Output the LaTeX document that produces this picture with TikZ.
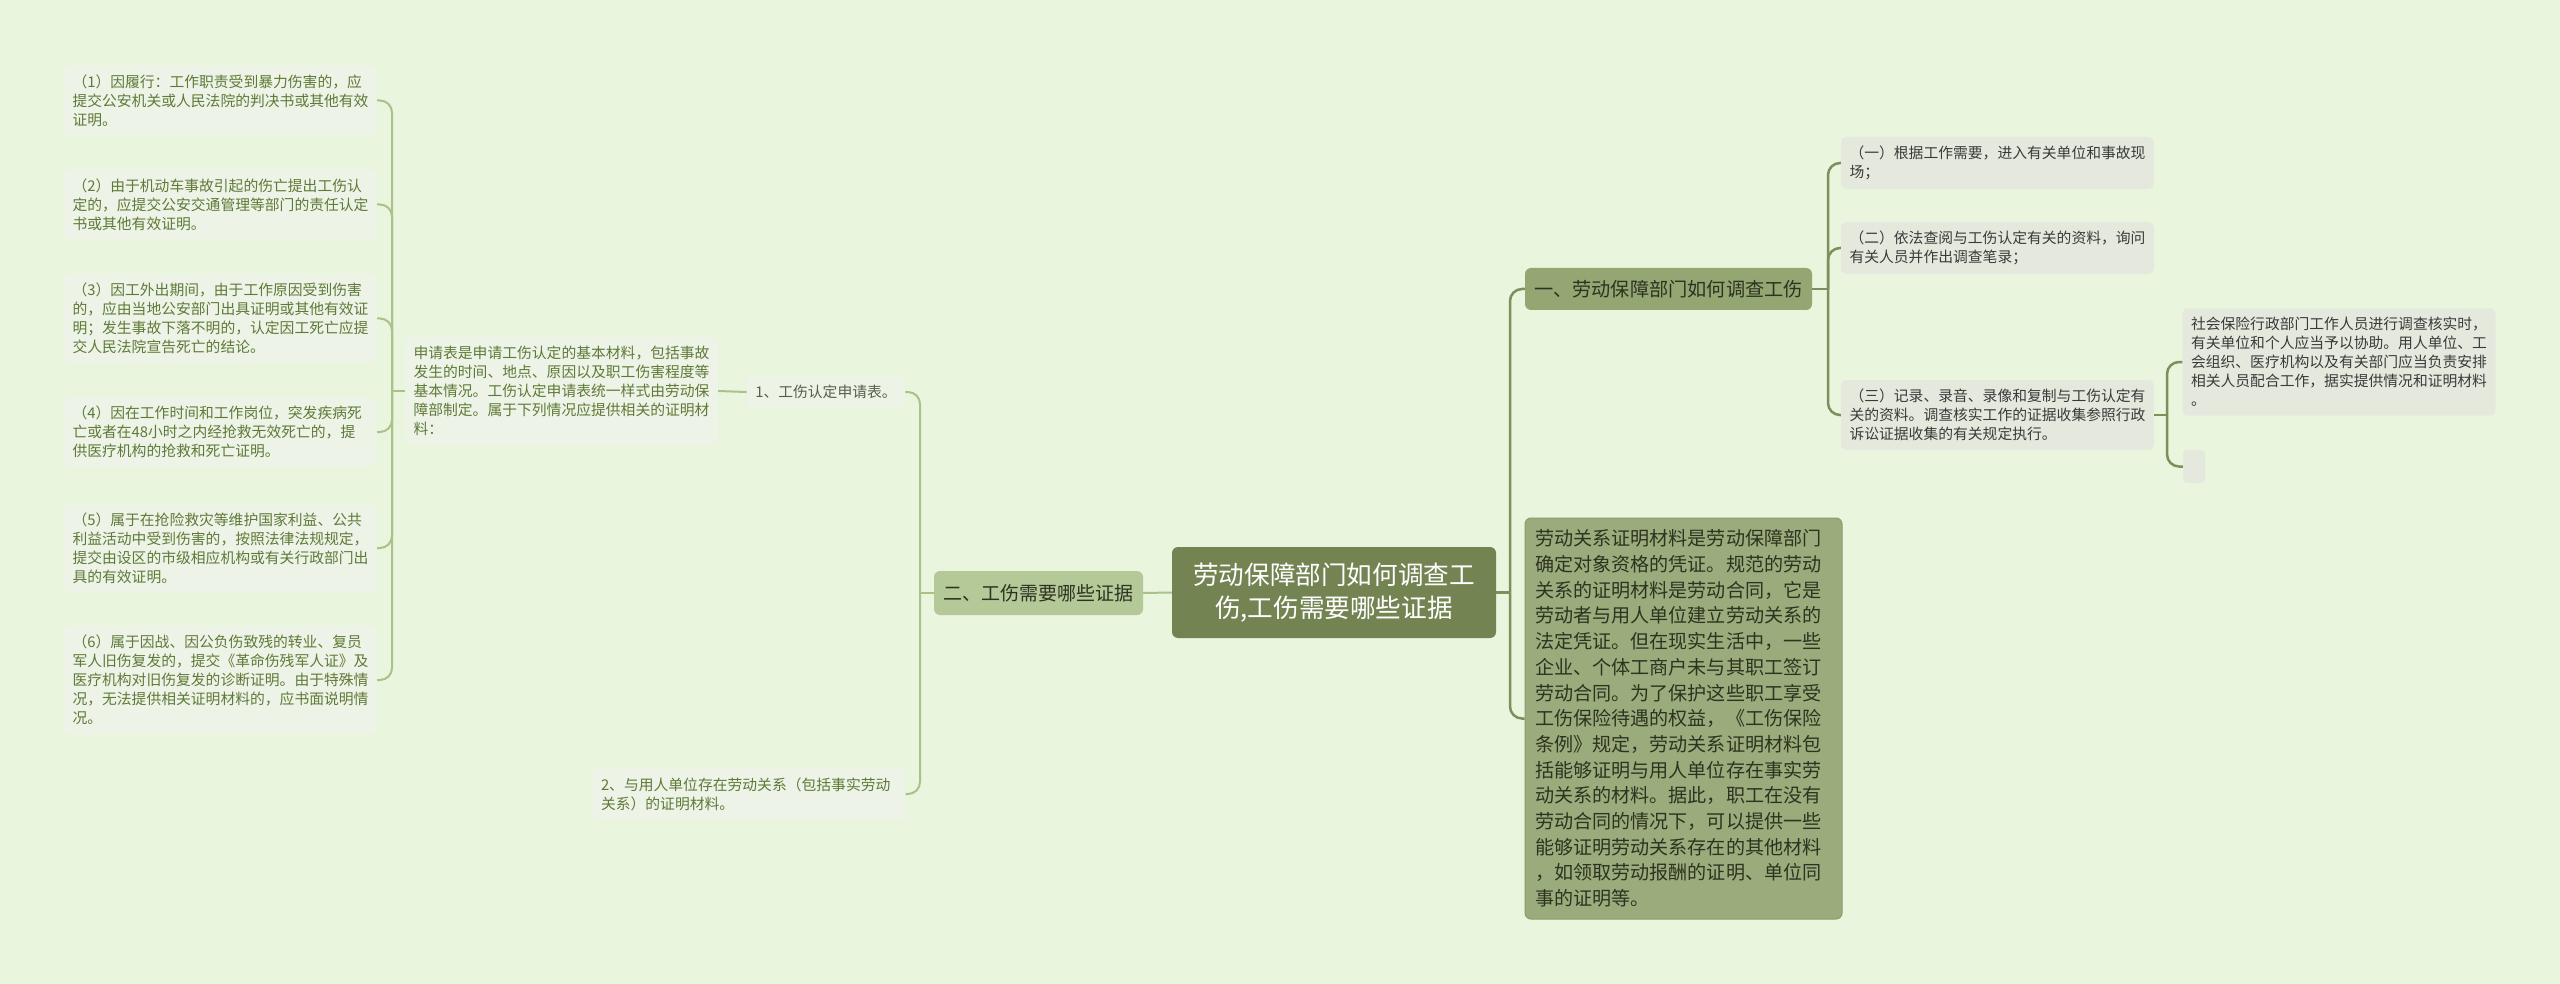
\documentclass[tikz,border=0pt]{standalone}
\usepackage{fontspec}
\newfontfamily\cjk{Noto Sans CJK SC}
\definecolor{bgcol}{HTML}{E9F5DD}
\definecolor{rootcol}{HTML}{738452}
\definecolor{lbrcol}{HTML}{B4C898}
\definecolor{rbrcol}{HTML}{94A672}
\definecolor{bigcol}{HTML}{9AAC7B}
\definecolor{bigedge}{HTML}{8C9D6C}
\definecolor{lleafcol}{HTML}{EEF3E7}
\definecolor{rleafcol}{HTML}{E5E9DD}
\definecolor{llinecol}{HTML}{A9C18A}
\definecolor{rlinecol}{HTML}{7E8F5C}
\definecolor{ltext}{HTML}{5E7A37}
\definecolor{formtext}{HTML}{55604A}
\definecolor{rtext}{HTML}{3A3A3A}
\definecolor{darktext}{HTML}{2C3320}
\tikzset{
  leafbase/.style={rounded corners=5pt, inner xsep=8.5pt, inner ysep=9pt,
    font=\cjk\fontsize{14.8pt}{19pt}\selectfont},
  lleaf/.style={leafbase, fill=lleafcol, text=ltext, text width=296pt, align=left},
  rleaf/.style={leafbase, fill=rleafcol, text=rtext, text width=296pt, align=left},
  rootbox/.style={fill=rootcol, text=white, rounded corners=6pt, inner sep=0pt,
    minimum width=324pt, minimum height=91pt, align=center,
    font=\cjk\fontsize{25.6pt}{32.5pt}\selectfont},
  lbranch/.style={fill=lbrcol, text=darktext, rounded corners=6pt, inner sep=0pt,
    minimum width=209pt, minimum height=44pt, font=\cjk\fontsize{19pt}{24pt}\selectfont},
  rbranch/.style={fill=rbrcol, text=darktext, rounded corners=6pt, inner sep=0pt,
    minimum width=287pt, minimum height=42pt, font=\cjk\fontsize{19.2pt}{24pt}\selectfont},
  bigbox/.style={fill=bigcol, draw=bigedge, line width=1pt, text=darktext, rounded corners=6pt,
    text width=297pt, inner xsep=10pt, inner ysep=0pt, minimum height=401pt, align=left,
    font=\cjk\fontsize{19.1pt}{25.7pt}\selectfont},
  lline/.style={draw=llinecol, line width=2pt},
  rline/.style={draw=rlinecol, line width=2.5pt},
}
\begin{document}
\begin{tikzpicture}[x=1pt,y=-1pt]
  \fill[bgcol] (0,0) rectangle (2560,984);
  % centre
  \node[rootbox] (root) at (1334,592.5) {劳动保障部门如何调查工\\伤,工伤需要哪些证据};
  % left half
  \node[lbranch] (ev) at (1038.5,593) {二、工伤需要哪些证据};
  \node[leafbase, fill=lleafcol, text=formtext] (form) at (826,392) {1、工伤认定申请表。};
  \node[lleaf] (labour) at (749,794) {2、与用人单位存在劳动关系（包括事实劳动\\关系）的证明材料。};
  \node[lleaf] (desc) at (561.5,391) {申请表是申请工伤认定的基本材料，包括事故\\发生的时间、地点、原因以及职工伤害程度等\\基本情况。工伤认定申请表统一样式由劳动保\\障部制定。属于下列情况应提供相关的证明材\\料：};
  \node[lleaf] (item1) at (220.5,100.5) {（1）因履行：工作职责受到暴力伤害的，应\\提交公安机关或人民法院的判决书或其他有效\\证明。};
  \node[lleaf] (item2) at (220.5,204.5) {（2）由于机动车事故引起的伤亡提出工伤认\\定的，应提交公安交通管理等部门的责任认定\\书或其他有效证明。};
  \node[lleaf] (item3) at (220.5,318.5) {（3）因工外出期间，由于工作原因受到伤害\\的，应由当地公安部门出具证明或其他有效证\\明；发生事故下落不明的，认定因工死亡应提\\交人民法院宣告死亡的结论。};
  \node[lleaf] (item4) at (220.5,432) {（4）因在工作时间和工作岗位，突发疾病死\\亡或者在48小时之内经抢救无效死亡的，提\\供医疗机构的抢救和死亡证明。};
  \node[lleaf] (item5) at (220.5,548) {（5）属于在抢险救灾等维护国家利益、公共\\利益活动中受到伤害的，按照法律法规规定，\\提交由设区的市级相应机构或有关行政部门出\\具的有效证明。};
  \node[lleaf] (item6) at (220.5,680) {（6）属于因战、因公负伤致残的转业、复员\\军人旧伤复发的，提交《革命伤残军人证》及\\医疗机构对旧伤复发的诊断证明。由于特殊情\\况，无法提供相关证明材料的，应书面说明情\\况。};
  % right half
  \node[rbranch] (inv) at (1668.5,289) {一、劳动保障部门如何调查工伤};
  \node[bigbox] (rel) at (1683.5,718.5) {劳动关系证明材料是劳动保障部门\\确定对象资格的凭证。规范的劳动\\关系的证明材料是劳动合同，它是\\劳动者与用人单位建立劳动关系的\\法定凭证。但在现实生活中，一些\\企业、个体工商户未与其职工签订\\劳动合同。为了保护这些职工享受\\工伤保险待遇的权益，《工伤保险\\条例》规定，劳动关系证明材料包\\括能够证明与用人单位存在事实劳\\动关系的材料。据此，职工在没有\\劳动合同的情况下，可以提供一些\\能够证明劳动关系存在的其他材料\\，如领取劳动报酬的证明、单位同\\事的证明等。};
  \node[rleaf] (step1) at (1997.5,163) {（一）根据工作需要，进入有关单位和事故现\\场；};
  \node[rleaf] (step2) at (1997.5,248) {（二）依法查阅与工伤认定有关的资料，询问\\有关人员并作出调查笔录；};
  \node[rleaf] (step3) at (1997.5,415) {（三）记录、录音、录像和复制与工伤认定有\\关的资料。调查核实工作的证据收集参照行政\\诉讼证据收集的有关规定执行。};
  \node[rleaf] (help) at (2339,362) {社会保险行政部门工作人员进行调查核实时，\\有关单位和个人应当予以协助。用人单位、工\\会组织、医疗机构以及有关部门应当负责安排\\相关人员配合工作，据实提供情况和证明材料\\。};
  \node[fill=rleafcol, rounded corners=4pt, minimum width=22pt, minimum height=33pt, inner sep=0pt] (blank) at (2194,466.5) {};
  % connectors, left
  \draw[lline] (root.west) -- (ev.east);
  \coordinate (jev) at (920,593);
  \draw[lline] (ev.west) -- (jev);
  \draw[lline, rounded corners=12pt] (jev) |- (form.east);
  \draw[lline, rounded corners=12pt] (jev) |- (labour.east);
  \draw[lline] (form.west) -- (desc.east);
  \coordinate (jdesc) at (392,391);
  \draw[lline] (desc.west) -- (jdesc);
  \draw[lline, rounded corners=12pt] (jdesc) |- (item1.east);
  \draw[lline, rounded corners=12pt] (jdesc) |- (item2.east);
  \draw[lline, rounded corners=12pt] (jdesc) |- (item3.east);
  \draw[lline, rounded corners=12pt] (jdesc) |- (item4.east);
  \draw[lline, rounded corners=12pt] (jdesc) |- (item5.east);
  \draw[lline, rounded corners=12pt] (jdesc) |- (item6.east);
  % connectors, right
  \coordinate (jroot) at (1510,592.5);
  \draw[rline] (root.east) -- (jroot);
  \draw[rline, rounded corners=12pt] (jroot) |- (inv.west);
  \draw[rline, rounded corners=12pt] (jroot) |- (rel.west);
  \coordinate (jinv) at (1828,289);
  \draw[rline] (inv.east) -- (jinv);
  \draw[rline, rounded corners=12pt] (jinv) |- (step1.west);
  \draw[rline, rounded corners=12pt] (jinv) |- (step2.west);
  \draw[rline, rounded corners=12pt] (jinv) |- (step3.west);
  \coordinate (jstep) at (2167,415);
  \draw[rline] (step3.east) -- (jstep);
  \draw[rline, rounded corners=12pt] (jstep) |- (help.west);
  \draw[rline, rounded corners=12pt] (jstep) |- (blank.west);
\end{tikzpicture}
\end{document}
